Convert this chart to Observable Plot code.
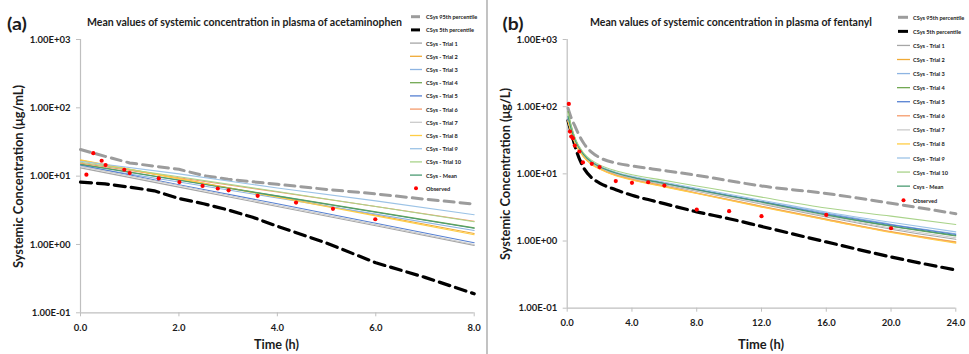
<!DOCTYPE html>
<html><head><meta charset="utf-8">
<script src="https://cdn.jsdelivr.net/npm/d3@7"></script>
<script src="https://cdn.jsdelivr.net/npm/@observablehq/plot@0.6"></script>
<style>
html,body{margin:0;padding:0;background:#fff;}
#root{position:relative;width:969px;height:354px;overflow:hidden;font-family:Lato,"Open Sans",sans-serif;}
.panel{position:absolute;top:0;}
#overlay{position:absolute;left:0;top:0;pointer-events:none;}
</style></head><body><div id="root"></div>
<script>
// ---------- series names / colours ----------
const trialNames = ["Trial 1","Trial 2","Trial 3","Trial 4","Trial 5","Trial 6","Trial 7","Trial 8","Trial 9","Trial 10","Mean"];
const trialColors = ["#a6a6a6","#f0aa36","#8db4e2","#72a853","#5680d2","#f59b6c","#cbcbcb","#ffcd45","#9cc3e6","#a9d38a","#4c9b73"];
const legendA = ["CSys 95th percentile","CSys 5th percentile","CSys - Trial 1","CSys - Trial 2","CSys - Trial 3","CSys - Trial 4","CSys - Trial 5","CSys - Trial 6","CSys - Trial 7","CSys - Trial 8","CSys - Trial 9","CSys - Trial 10","CSys - Mean","Observed"];
const legendB = ["CSys 95th percentile","CSys 5th percentile","CSys - Trial 1","CSys - Trial 2","CSys - Trial 3","CSys - Trial 4","CSys - Trial 5","CSys - Trial 6","CSys - Trial 7","CSys - Trial 8","CSys - Trial 9","CSys - Trial 10","Csys - Mean","Observed"];
const titleA = "Mean values of systemic concentration in plasma of acetaminophen";
const titleB = "Mean values of systemic concentration in plasma of fentanyl";
const yLabelA = "Systemic Concentration (μg/mL)";
const yLabelB = "Systemic Concentration (μg/L)";
const xLabel = "Time (h)";
const yTicks = [0.1, 1, 10, 100, 1000];
const xTicksA = [0, 2, 4, 6, 8];
const xTicksB = [0, 4, 8, 12, 16, 20, 24];

// ---------- (a) acetaminophen ----------
const acetP95T = [0, 0.5, 1, 1.5, 2, 2.5, 3, 4, 5, 6, 7, 8];
const acetP95 = [24.5, 19.5, 15.6, 14.0, 12.6, 10.2, 9.0, 7.6, 6.4, 5.5, 4.6, 3.9];
const acetP5T = [0, 0.5, 1, 1.5, 2, 2.5, 3, 3.5, 4, 5, 6, 7, 8];
const acetP5 = [8.2, 7.7, 6.9, 6.1, 4.7, 3.95, 3.2, 2.5, 1.85, 1.05, 0.54, 0.33, 0.19];
const acetTrialT = [0, 2, 4, 6, 8];
const acetT1 = [13.2, 6.9, 3.6, 1.88, 0.97];
const acetT2 = [17.0, 9.2, 5.0, 2.7, 1.45];
const acetT3 = [14.0, 8.2, 4.8, 2.78, 1.6];
const acetT4 = [15.0, 8.8, 5.15, 3.0, 1.75];
const acetT5 = [14.5, 7.5, 3.95, 2.05, 1.06];
const acetT6 = [15.5, 9.5, 5.85, 3.6, 2.19];
const acetT7 = [13.9, 7.3, 3.75, 1.95, 1.0];
const acetT8 = [17.3, 9.2, 4.9, 2.62, 1.39];
const acetT9 = [16.5, 10.8, 6.7, 4.35, 2.72];
const acetT10 = [16.0, 9.8, 5.95, 3.6, 2.15];
const acetMean = [14.8, 8.7, 5.1, 2.97, 1.73];
const acetObsT = [0.12, 0.26, 0.43, 0.51, 0.89, 1.0, 1.59, 2.01, 2.48, 2.79, 3.01, 3.6, 4.38, 5.13, 5.99];
const acetObs = [10.5, 21.7, 16.8, 14.5, 12.4, 11.1, 9.25, 8.2, 7.2, 6.6, 6.2, 5.15, 4.1, 3.33, 2.34];

// ---------- (b) fentanyl ----------
const fentP95T = [0.05, 0.25, 0.5, 0.75, 1, 1.5, 2, 3, 4, 6, 8, 10, 12, 16, 20, 24];
const fentP95 = [95, 68, 50, 37, 29, 21, 17.5, 14.5, 13.1, 11.2, 9.5, 7.9, 6.6, 5.1, 3.65, 2.55];
const fentP5T = [0.05, 0.3, 0.6, 1, 1.5, 2, 3, 4, 6, 8, 10, 12, 16, 20, 24];
const fentP5 = [62, 37, 21, 12.5, 8.8, 7.3, 5.8, 4.8, 3.6, 2.72, 2.15, 1.65, 0.97, 0.58, 0.37];
const fentTrialT = [0.05, 0.25, 0.5, 1, 1.5, 2, 3, 4, 6, 8, 12, 16, 20, 24];
const fentT1 = [63, 42.5, 29, 18.8, 14.4, 12.3, 9.9, 8.6, 6.9, 5.5, 3.55, 2.28, 1.5, 1.06];
const fentT2 = [62, 42, 28.5, 18.4, 14.1, 12.0, 9.6, 8.3, 6.6, 5.2, 3.3, 2.12, 1.38, 0.97];
const fentT3 = [68, 45, 30.5, 19.5, 15.1, 12.9, 10.4, 9.0, 7.3, 5.9, 3.9, 2.6, 1.78, 1.28];
const fentT4 = [85, 52, 33, 20, 15.2, 12.9, 10.4, 9.0, 7.2, 5.8, 3.8, 2.45, 1.66, 1.19];
const fentT5 = [66, 44, 30, 19.2, 14.9, 12.7, 10.3, 8.9, 7.2, 5.85, 3.85, 2.52, 1.74, 1.25];
const fentT6 = [61, 41.5, 28.2, 18.2, 14.0, 11.9, 9.5, 8.2, 6.5, 5.15, 3.25, 2.08, 1.36, 0.95];
const fentT7 = [64, 43, 29.5, 19, 14.6, 12.5, 10.0, 8.7, 7.0, 5.6, 3.65, 2.35, 1.56, 1.12];
const fentT8 = [60, 41, 28, 18, 13.8, 11.8, 9.4, 8.1, 6.4, 5.1, 3.2, 2.05, 1.34, 0.93];
const fentT9 = [70, 46, 31, 19.8, 15.3, 13.1, 10.6, 9.2, 7.5, 6.1, 4.05, 2.7, 1.9, 1.37];
const fentT10 = [80, 50, 33, 20.5, 16, 13.6, 11.1, 9.7, 8.0, 6.6, 4.5, 3.1, 2.35, 1.76];
const fentMean = [72, 46, 31, 19.5, 15, 12.8, 10.3, 8.9, 7.2, 5.8, 3.8, 2.45, 1.68, 1.21];
const fentObsT = [0.1, 0.17, 0.25, 0.35, 0.47, 0.75, 0.97, 1.52, 2.0, 3.0, 4.0, 5.0, 6.0, 8.0, 10.0, 12.0, 16.0, 20.0];
const fentObs = [110, 42.6, 36, 34, 26.4, 21.5, 14.8, 14.1, 12.6, 7.8, 7.35, 7.5, 6.7, 2.94, 2.78, 2.34, 2.45, 1.55];

// ---------- helpers ----------
const zip = (ts, vs, s) => ts.map((t, i) => ({t, v: vs[i], s}));
const trialRows = (ts, arrs) => arrs.flatMap((a, k) => zip(ts, a, trialNames[k]));
const sciFmt = v => { const e = Math.round(Math.log10(v)); return "1.00E" + (e < 0 ? "-" : "+") + String(Math.abs(e)).padStart(2, "0"); };
const AX = "#bfbfbf", TXT = "#1c1c1c";

function panel(o) {
  return Plot.plot({
    width: o.width, height: 354,
    marginLeft: o.mL, marginRight: o.mR, marginTop: 39, marginBottom: o.mB,
    style: {fontFamily: "Lato, sans-serif", fontSize: "9.5px", fontWeight: "bold", color: TXT, background: "transparent", overflow: "visible"},
    x: {domain: o.xDomain, label: null},
    y: {type: "log", domain: [0.1, 1000], label: null},
    color: {domain: trialNames, range: trialColors},
    marks: [
      Plot.ruleX([o.xDomain[0]], {stroke: AX, strokeWidth: 1.2}),
      Plot.ruleY([0.1], {stroke: AX, strokeWidth: 1.2}),
      Plot.axisY({ticks: yTicks, tickFormat: sciFmt, tickSize: 4, tickPadding: 6, stroke: AX, fill: TXT, label: null}),
      Plot.axisX({ticks: o.xTicks, tickFormat: d => d.toFixed(1), tickSize: 4, tickPadding: 7, stroke: AX, fill: TXT, label: null}),
      Plot.line(o.p95, {x: "t", y: "v", stroke: "#9c9c9c", strokeWidth: 3, strokeDasharray: "10,6", curve: o.curve}),
      Plot.line(o.p5, {x: "t", y: "v", stroke: "#000000", strokeWidth: 3.2, strokeDasharray: "11,6", curve: o.curve}),
      Plot.line(o.trials, {x: "t", y: "v", z: "s", stroke: "s", strokeWidth: 1.1, curve: o.curve}),
      Plot.dot(o.obs, {x: "t", y: "v", r: 2.1, fill: "#ff0000", stroke: null})
    ]
  });
}

const root = document.getElementById("root");

const plotA = panel({
  width: 485, mL: 80, mR: 11.3, mB: 41.7, xDomain: [0, 8], xTicks: xTicksA, curve: "linear",
  p95: zip(acetP95T, acetP95, "p95"), p5: zip(acetP5T, acetP5, "p5"),
  trials: trialRows(acetTrialT, [acetT1, acetT2, acetT3, acetT4, acetT5, acetT6, acetT7, acetT8, acetT9, acetT10, acetMean]),
  obs: zip(acetObsT, acetObs, "obs")
});
const plotB = panel({
  width: 484, mL: 81.7, mR: 13.7, mB: 46.3, xDomain: [0, 24], xTicks: xTicksB, curve: "monotone-x",
  p95: zip(fentP95T, fentP95, "p95"), p5: zip(fentP5T, fentP5, "p5"),
  trials: trialRows(fentTrialT, [fentT1, fentT2, fentT3, fentT4, fentT5, fentT6, fentT7, fentT8, fentT9, fentT10, fentMean]),
  obs: zip(fentObsT, fentObs, "obs")
});
const wa = document.createElement("div"); wa.className = "panel"; wa.style.left = "0px"; wa.appendChild(plotA); root.appendChild(wa);
const wb = document.createElement("div"); wb.className = "panel"; wb.style.left = "485px"; wb.appendChild(plotB); root.appendChild(wb);

// ---------- overlay: titles, axis titles, legends ----------
const svg = d3.select(root).append("svg").attr("id", "overlay").attr("width", 969).attr("height", 354)
  .style("font-family", "Lato, sans-serif").style("font-weight", "bold").attr("fill", TXT);

svg.append("line").attr("x1", 487).attr("x2", 487).attr("y1", 0).attr("y2", 354).attr("stroke", "#9a9a9a").attr("stroke-width", 1.2);

function txt(x, y, s, size, len, opts = {}) {
  const t = svg.append("text").attr("x", x).attr("y", y).attr("font-size", size).text(s)
    .attr("text-anchor", opts.anchor || "middle").attr("dominant-baseline", "central");
  if (len) t.attr("textLength", len).attr("lengthAdjust", "spacingAndGlyphs");
  if (opts.rotate) t.attr("transform", `rotate(-90 ${x} ${y})`);
  return t;
}
txt(17, 23, "(a)", 17, 20);
txt(513, 23, "(b)", 17, 21);
txt(244.5, 21.5, titleA, 10.8, 315);
txt(731, 21.5, titleB, 10.8, 282);
txt(18, 176.5, yLabelA, 12.5, 183, {rotate: true});
txt(505, 174, yLabelB, 12.5, 172, {rotate: true});
txt(276.5, 344, xLabel, 12.5, 45);
txt(761, 344, xLabel, 12.5, 46);

function legend(labels, x0, x1, xt, y0, dy) {
  const g = svg.append("g");
  labels.forEach((lab, i) => {
    const y = y0 + i * dy;
    if (i === 0 || i === 1) {
      g.append("line").attr("x1", x0 + 1).attr("x2", x1 - 2).attr("y1", y).attr("y2", y)
        .attr("stroke", i === 0 ? "#9c9c9c" : "#000000").attr("stroke-width", 3);
    } else if (i === labels.length - 1) {
      g.append("circle").attr("cx", (x0 + x1) / 2).attr("cy", y).attr("r", 2).attr("fill", "#ff0000");
    } else {
      g.append("line").attr("x1", x0).attr("x2", x1).attr("y1", y).attr("y2", y)
        .attr("stroke", trialColors[i - 2]).attr("stroke-width", 1.3);
    }
    g.append("text").attr("x", xt).attr("y", y).attr("dominant-baseline", "central")
      .attr("font-size", 5.6).attr("fill", "#222").text(lab);
  });
}
legend(legendA, 410, 422, 426, 16.7, 13.2);
legend(legendB, 897, 910, 913, 17.3, 14.07);
</script></body></html>
